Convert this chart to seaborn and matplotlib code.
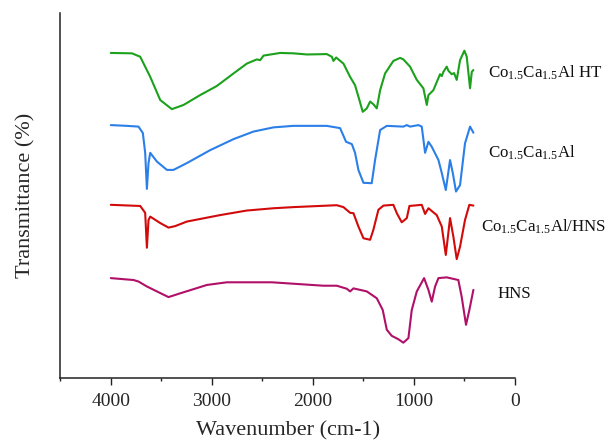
import numpy as np
import pandas as pd
import matplotlib
matplotlib.use("Agg")
import matplotlib.pyplot as plt
from matplotlib.ticker import MultipleLocator
import seaborn as sns

# FTIR spectra (wavenumber in cm-1, transmittance stacked with vertical offsets)
wn_ht = [4000, 3791, 3709, 3610, 3511, 3396, 3281, 3116, 2951, 2786, 2654, 2555, 2522,
         2489, 2324, 2193, 2060, 1863, 1813, 1797, 1770, 1698, 1632, 1583, 1550, 1507,
         1467, 1434, 1402, 1368, 1335, 1286, 1204, 1137, 1105, 1039, 972, 907, 873, 857,
         808, 742, 725, 709, 676, 659, 626, 603, 577, 544, 501, 478, 445, 428, 412]
t_ht = [87.4, 87.3, 86.4, 81.1, 75.0, 72.6, 73.7, 76.3, 78.7, 82.0, 84.6, 85.7, 85.5,
        86.7, 87.4, 87.3, 87.0, 87.1, 86.4, 85.3, 86.2, 84.6, 81.1, 78.9, 75.9, 71.9,
        72.8, 74.6, 73.9, 72.8, 77.6, 82.0, 85.3, 86.1, 85.7, 83.8, 80.3, 78.1, 73.7, 76.3,
        77.6, 81.8, 81.3, 82.4, 83.8, 82.7, 81.8, 82.1, 80.3, 85.5, 88.0, 86.4, 78.1, 82.4, 82.9]

wn_co = [4000, 3841, 3726, 3683, 3660, 3643, 3627, 3610, 3544, 3445, 3380, 3247, 3017,
         2786, 2588, 2390, 2193, 1863, 1731, 1672, 1615, 1583, 1550, 1500, 1418, 1385,
         1335, 1269, 1105, 1071, 1039, 956, 923, 890, 857, 824, 758, 725, 685, 643, 616,
         584, 544, 495, 445, 412]
t_co = [68.4, 68.2, 68.0, 66.3, 61.1, 51.6, 58.4, 61.1, 58.8, 56.6, 56.6, 58.4, 61.8,
        64.7, 66.7, 67.8, 68.2, 68.2, 67.6, 64.0, 63.4, 61.1, 56.6, 53.2, 53.1, 59.2,
        67.1, 68.2, 68.0, 68.4, 68.0, 68.4, 68.0, 61.1, 64.0, 62.7, 59.2, 55.8, 51.3, 59.2, 55.8,
        50.9, 52.6, 63.6, 68.0, 66.4]

wn_comp = [4000, 3709, 3660, 3643, 3627, 3610, 3511, 3429, 3363, 3247, 2918, 2654, 2390,
           2193, 1764, 1698, 1632, 1599, 1550, 1500, 1434, 1402, 1352, 1302, 1204, 1170,
           1121, 1071, 1045, 923, 890, 857, 775, 725, 685, 643, 610, 577, 544, 495, 452, 412]
t_comp = [47.4, 47.1, 45.3, 36.1, 43.4, 44.3, 42.6, 41.4, 41.8, 43.0, 44.7, 45.9, 46.5,
          46.8, 47.3, 46.8, 45.3, 45.2, 41.7, 38.6, 38.2, 40.8, 46.1, 47.2, 47.4, 45.2,
          42.8, 43.9, 47.1, 47.4, 45.0, 46.5, 44.7, 41.7, 34.2, 43.9, 39.0, 33.1, 36.4, 43.4, 47.4, 47.2]

wn_hns = [4000, 3775, 3726, 3643, 3544, 3429, 3313, 3181, 3049, 2852, 2407, 1896, 1764,
          1665, 1632, 1599, 1467, 1368, 1309, 1269, 1220, 1154, 1105, 1055, 1022, 972,
          900, 857, 824, 791, 758, 676, 561, 528, 485, 452, 412]
t_hns = [28.1, 27.6, 27.2, 25.9, 24.6, 23.1, 24.1, 25.2, 26.3, 27.0, 27.0, 26.1, 26.1,
         25.3, 24.6, 25.4, 24.6, 22.8, 19.7, 14.5, 12.9, 12.0, 11.1, 12.3, 19.7, 24.6,
         28.1, 25.0, 21.9, 25.9, 28.1, 28.3, 27.6, 23.2, 15.8, 19.7, 25.0]

names = ["Co$_{1.5}$Ca$_{1.5}$Al HT", "Co$_{1.5}$Ca$_{1.5}$Al",
         "Co$_{1.5}$Ca$_{1.5}$Al/HNS", "HNS"]
colors = ["#1ba11b", "#2b7fe8", "#d20a0a", "#b01068"]

# label anchor: left edge wavenumber and baseline height
label_x = [267, 267, 335, 175]
label_y = [81.0, 59.9, 40.3, 22.8]

frames = []
for name, wn, t in zip(names, [wn_ht, wn_co, wn_comp, wn_hns],
                       [t_ht, t_co, t_comp, t_hns]):
    frames.append(pd.DataFrame({"wavenumber": wn, "T": t, "sample": name}))
df = pd.concat(frames, ignore_index=True)

sns.set_style("ticks")
plt.rcParams["font.family"] = ["Liberation Serif", "DejaVu Serif"]
plt.rcParams["mathtext.fontset"] = "custom"
plt.rcParams["mathtext.rm"] = "Liberation Serif"
plt.rcParams["mathtext.it"] = "Liberation Serif:italic"

fig = plt.figure(figsize=(6.14, 4.41), dpi=100)
ax = fig.add_axes([0.0982, 0.1429, 0.7406, 0.8283])

sns.lineplot(data=df, x="wavenumber", y="T", hue="sample", palette=colors,
             hue_order=names, estimator=None, linewidth=1.5, legend=False, ax=ax)

for name, c, lx, ly in zip(names, colors, label_x, label_y):
    ax.text(lx, ly, name, fontsize=12.2, color="#111111", ha="left",
            va="baseline", clip_on=False)

ax.set_xlim(4500, 0)
ax.set_ylim(1.8, 98)
ax.xaxis.set_major_locator(MultipleLocator(1000))
ax.xaxis.set_minor_locator(MultipleLocator(500))
ax.tick_params(axis="x", which="major", direction="out", length=5, width=1,
               labelsize=14, pad=6, color="#222222")
ax.tick_params(axis="x", which="minor", direction="out", length=2.5, width=1,
               color="#222222")
ax.set_yticks([])
for side in ["top", "right"]:
    ax.spines[side].set_visible(False)
for side in ["left", "bottom"]:
    ax.spines[side].set_linewidth(1.1)
    ax.spines[side].set_color("#222222")

ax.set_xlabel("Wavenumber (cm-1)", fontsize=16, labelpad=8)
ax.set_ylabel("Transmittance (%)", fontsize=16, labelpad=18)

fig.savefig("out.png", dpi=100)
